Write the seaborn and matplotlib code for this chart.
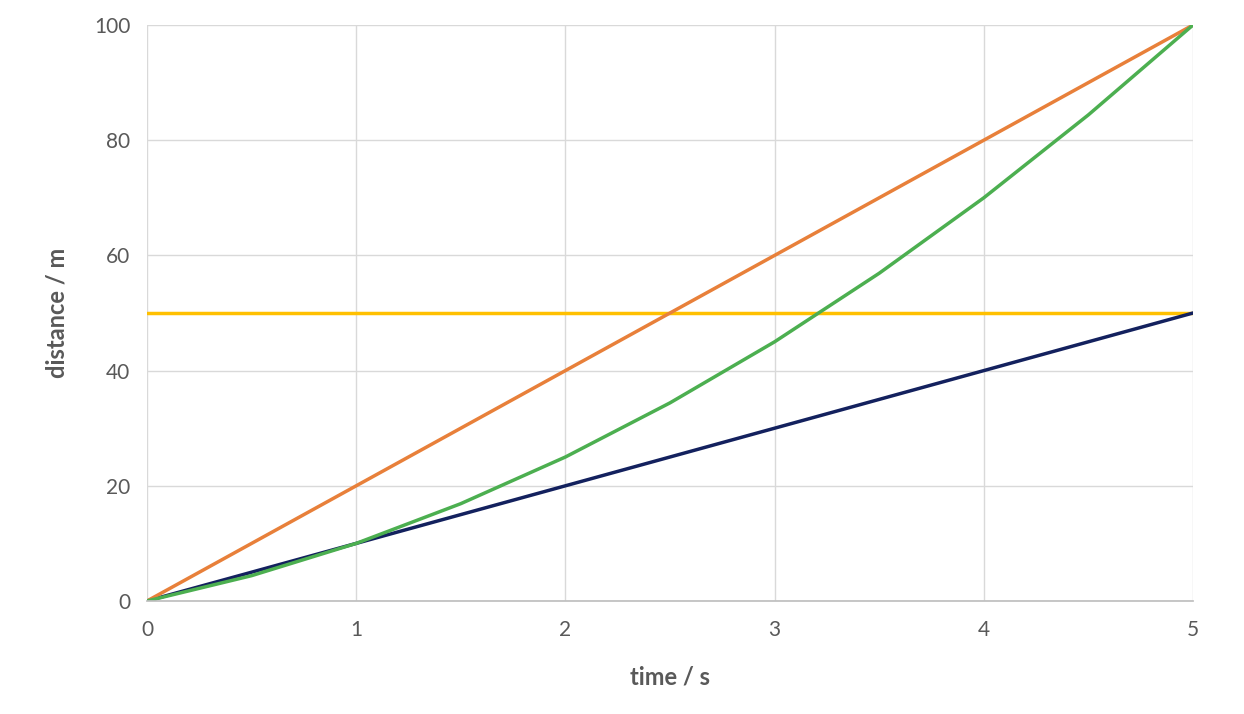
import matplotlib
matplotlib.use("Agg")
import matplotlib.pyplot as plt
import seaborn as sns
import pandas as pd

t = [0, 1, 2, 3, 4, 5]
orange = [0, 20, 40, 60, 80, 100]
navy = [0, 10, 20, 30, 40, 50]
yellow = [50, 50, 50, 50, 50, 50]
t_green = [0, 0.5, 1, 1.5, 2, 2.5, 3, 3.5, 4, 4.5, 5]
green = [0, 4.4, 10, 16.9, 25, 34.4, 45, 56.9, 70, 84.4, 100]

sns.set_theme(style="white")
plt.rcParams['font.family'] = ['Lato', 'DejaVu Sans']

fig = plt.figure(figsize=(12.44, 7.14), dpi=100)
ax = fig.add_axes([147/1244, 1-601/714, (1193-147)/1244, (601-25)/714])

sns.lineplot(x=t, y=yellow, ax=ax, color="#FFC000", lw=2.5)
sns.lineplot(x=t, y=navy, ax=ax, color="#13215E", lw=2.5)
sns.lineplot(x=t, y=orange, ax=ax, color="#E8803A", lw=2.5)
sns.lineplot(x=t_green, y=green, ax=ax, color="#4CAF50", lw=2.5)

ax.set_xlim(0, 5)
ax.set_ylim(0, 100)
ax.set_xticks(range(6))
ax.set_yticks(range(0, 101, 20))
ax.grid(True, color="#D9D9D9", lw=1)
for s in ["top", "right", "left"]:
    ax.spines[s].set_visible(False)
ax.spines["bottom"].set_color("#BFBFBF")
ax.tick_params(colors="#595959", labelsize=15, length=0)
ax.tick_params(axis="x", pad=14)
ax.tick_params(axis="y", pad=12)
ax.set_xlabel("time / s", fontsize=17, fontweight="bold", color="#595959", labelpad=18)
ax.set_ylabel("distance / m", fontsize=17, fontweight="bold", color="#595959", labelpad=18)
fig.savefig("out.png", dpi=100)
